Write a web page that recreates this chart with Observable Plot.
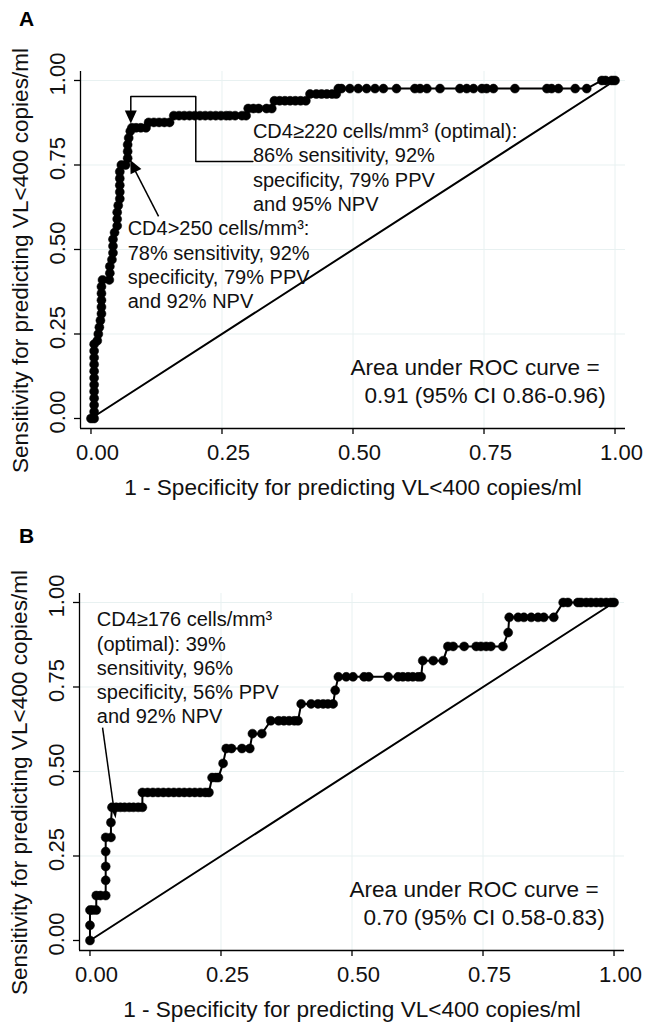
<!DOCTYPE html>
<html>
<head>
<meta charset="utf-8">
<script src="https://cdn.jsdelivr.net/npm/d3@7"></script>
<script src="https://cdn.jsdelivr.net/npm/@observablehq/plot@0.6"></script>
<style>
  html, body { margin: 0; padding: 0; background: #fff; }
  #chart { width: 656px; }
  #chart svg { display: block; }
</style>
</head>
<body>
<div id="chart"></div>
<script>
// ---------- data ----------
const ticks = [0, 0.25, 0.5, 0.75, 1];
const gridTicks = [0.25, 0.5, 0.75, 1];
const xTitle = "1 - Specificity for predicting VL<400 copies/ml";
const yTitle = "Sensitivity for predicting VL<400 copies/ml";

// Panel A ROC curve (1 - specificity, sensitivity)
const aFpr = [
  0, 0.006,
  0.006, 0.006, 0.006, 0.006, 0.006, 0.006, 0.006, 0.006, 0.006, 0.006, 0.006,
  0.012, 0.014, 0.016, 0.018,
  0.02, 0.02, 0.02, 0.02, 0.02, 0.022,
  0.035, 0.036, 0.036, 0.04,
  0.042, 0.042, 0.042, 0.045,
  0.05, 0.05, 0.05, 0.052,
  0.055, 0.055, 0.055, 0.055, 0.055, 0.058,
  0.066, 0.07, 0.07, 0.07, 0.072, 0.075,
  0.078, 0.086, 0.095, 0.105,
  0.11, 0.12, 0.13, 0.14, 0.15,
  0.158, 0.168, 0.178, 0.188, 0.198, 0.208, 0.218, 0.228, 0.238, 0.248, 0.258, 0.265, 0.275, 0.288, 0.296,
  0.30, 0.31, 0.32, 0.335, 0.345,
  0.35, 0.36, 0.37, 0.38, 0.39, 0.40, 0.41,
  0.418, 0.43, 0.44, 0.45, 0.46, 0.468,
  0.472, 0.478, 0.494, 0.510, 0.526, 0.542, 0.558, 0.583, 0.618, 0.628, 0.641, 0.666,
  0.704, 0.717, 0.730, 0.746, 0.755, 0.768, 0.809, 0.870, 0.879, 0.892, 0.924, 0.946,
  0.975, 0.982, 0.994, 1.0
];
const aSens = [
  0, 0,
  0.02, 0.04, 0.06, 0.08, 0.10, 0.12, 0.14, 0.16, 0.18, 0.20, 0.22,
  0.23, 0.25, 0.27, 0.29,
  0.31, 0.33, 0.35, 0.37, 0.39, 0.41,
  0.41, 0.43, 0.45, 0.47,
  0.49, 0.51, 0.53, 0.55,
  0.57, 0.59, 0.61, 0.63,
  0.65, 0.67, 0.69, 0.71, 0.73, 0.75,
  0.75, 0.77, 0.79, 0.81, 0.83, 0.85,
  0.86, 0.86, 0.86, 0.86,
  0.876, 0.876, 0.876, 0.876, 0.876,
  0.896, 0.896, 0.896, 0.896, 0.896, 0.896, 0.896, 0.896, 0.896, 0.896, 0.896, 0.896, 0.896, 0.896, 0.896,
  0.917, 0.917, 0.917, 0.917, 0.917,
  0.94, 0.94, 0.94, 0.94, 0.94, 0.94, 0.94,
  0.96, 0.96, 0.96, 0.96, 0.96, 0.96,
  0.976, 0.976, 0.976, 0.976, 0.976, 0.976, 0.976, 0.976, 0.976, 0.976, 0.976, 0.976,
  0.976, 0.976, 0.976, 0.976, 0.976, 0.976, 0.976, 0.976, 0.976, 0.976, 0.976, 0.976,
  1, 1, 1, 1
];

// Panel B ROC curve
const bFpr = [
  0, 0, 0,
  0.005, 0.012,
  0.012, 0.02, 0.03,
  0.03, 0.03, 0.03, 0.03,
  0.04, 0.04, 0.042,
  0.05, 0.058, 0.066, 0.075, 0.083, 0.092, 0.10,
  0.10, 0.11, 0.12, 0.13, 0.14, 0.15, 0.16, 0.17, 0.18, 0.19, 0.20, 0.21, 0.22, 0.227,
  0.233, 0.24, 0.245,
  0.254, 0.26,
  0.27, 0.29, 0.305,
  0.31, 0.328,
  0.345, 0.36, 0.37, 0.38, 0.39, 0.397,
  0.403, 0.422, 0.435, 0.445, 0.454, 0.464,
  0.468, 0.474,
  0.489, 0.502, 0.523, 0.532, 0.569, 0.588, 0.597, 0.607, 0.616, 0.626, 0.632,
  0.635, 0.655, 0.674,
  0.683, 0.693, 0.714, 0.737, 0.746, 0.756, 0.765, 0.788,
  0.798, 0.80,
  0.817, 0.828, 0.842, 0.855, 0.866, 0.885,
  0.903, 0.912, 0.931, 0.937, 0.947, 0.956, 0.966, 0.975, 0.985, 0.994, 1.0
];
const bSens = [
  0, 0.045, 0.09,
  0.09, 0.09,
  0.133, 0.133, 0.133,
  0.178, 0.219, 0.263, 0.305,
  0.305, 0.349, 0.394,
  0.394, 0.394, 0.394, 0.394, 0.394, 0.394, 0.394,
  0.438, 0.438, 0.438, 0.438, 0.438, 0.438, 0.438, 0.438, 0.438, 0.438, 0.438, 0.438, 0.438, 0.438,
  0.482, 0.482, 0.482,
  0.524, 0.568,
  0.568, 0.568, 0.568,
  0.612, 0.612,
  0.65, 0.65, 0.65, 0.65, 0.65, 0.65,
  0.70, 0.70, 0.70, 0.70, 0.70, 0.70,
  0.74, 0.78,
  0.78, 0.78, 0.78, 0.78, 0.78, 0.78, 0.78, 0.78, 0.78, 0.78, 0.78,
  0.828, 0.828, 0.828,
  0.87, 0.87, 0.87, 0.87, 0.87, 0.87, 0.87, 0.87,
  0.911, 0.956,
  0.956, 0.956, 0.956, 0.956, 0.956, 0.956,
  1, 1, 1, 1, 1, 1, 1, 1, 1, 1, 1
];

// Annotation texts
const aNotes = [
  {text: "CD4\u2265220 cells/mm\u00b3 (optimal):\n86% sensitivity, 92%\nspecificity, 79% PPV\nand 95% NPV", x: 0.309, y: 0.745},
  {text: "CD4>250 cells/mm\u00b3:\n78% sensitivity, 92%\nspecificity, 79% PPV\nand 92% NPV", x: 0.070, y: 0.457}
];
const bNotes = [
  {text: "CD4\u2265176 cells/mm\u00b3\n(optimal): 39%\nsensitivity, 96%\nspecificity, 56% PPV\nand 92% NPV", x: 0.013, y: 0.809}
];
const aAuc = ["Area under ROC curve =", "0.91 (95% CI 0.86-0.96)"];
const bAuc = ["Area under ROC curve =", "0.70 (95% CI 0.58-0.83)"];
const aucX = [0.495, 0.522];
const aucY = [0.151, 0.067];

// Arrow paths (data units)
const aBracket = [
  {x: 0.309, y: 0.760}, {x: 0.200, y: 0.760}, {x: 0.200, y: 0.953},
  {x: 0.076, y: 0.953}, {x: 0.076, y: 0.895}
];
const aLinks = [{x1: 0.129, y1: 0.598, x2: 0.082, y2: 0.740}];
const aHeads = [
  {x: 0.076, y: 0.873, rot: 180, w: 12, l: 13},
  {x: 0.075, y: 0.765, rot: -26, w: 12, l: 13}
];
const bLinks = [{x1: 0.024, y1: 0.630, x2: 0.046, y2: 0.385}];
const bHeads = [
  {x: 0.049, y: 0.361, rot: 172, w: 8, l: 13}
];

// ---------- drawing ----------
const xDomain = [-0.02, 1.02];
const yDomain = [-0.0296, 1.0266];
const fmt = d3.format(".2f");
const blank = () => "";
const font = "'Liberation Sans', Arial, Helvetica, sans-serif";

// arrowhead symbol whose apex sits at the anchor point (pointing up before rotation)
function headSymbol(w, l) {
  return {draw(ctx) {
    ctx.moveTo(0, 0);
    ctx.lineTo(-w / 2, l);
    ctx.lineTo(w / 2, l);
    ctx.closePath();
  }};
}

function panel(cfg) {
  const pts = cfg.fpr.map((x, i) => ({x, y: cfg.sens[i]}));
  const heads = cfg.heads.map(h => Plot.dot([h], {
    x: "x", y: "y", symbol: headSymbol(h.w, h.l), r: 5, rotate: h.rot,
    fill: "#000", stroke: "none"
  }));
  const auc = cfg.auc.map((t, i) => Plot.text([t], {
    x: aucX[i], y: aucY[i], text: d => d, textAnchor: "start",
    lineAnchor: "middle", fontSize: 22.6, fill: "#111"
  }));
  return Plot.plot({
    width: 656,
    height: cfg.height,
    marginTop: cfg.mt, marginBottom: cfg.mb, marginLeft: cfg.ml, marginRight: cfg.mr,
    style: {fontFamily: font, background: "#fff", color: "#111"},
    x: {domain: xDomain},
    y: {domain: yDomain},
    marks: [
      Plot.gridX(gridTicks, {stroke: "#e8f1f1", strokeOpacity: 1, strokeWidth: 1}),
      Plot.gridY(gridTicks, {stroke: "#e8f1f1", strokeOpacity: 1, strokeWidth: 1}),
      Plot.ruleX([xDomain[0]], {stroke: "#000", strokeWidth: 1.3}),
      Plot.ruleY([yDomain[0]], {stroke: "#000", strokeWidth: 1.3}),
      // tick marks only
      Plot.axisX(ticks, {tickFormat: blank, tickSize: 6, label: null, stroke: "#000", strokeWidth: 1.3}),
      Plot.axisY(ticks, {tickFormat: blank, tickSize: 6, label: null, stroke: "#000", strokeWidth: 1.3}),
      // tick labels only (set slightly after their ticks, as in the reference)
      Plot.axisX(ticks, {tickFormat: fmt, tickSize: 0, tickPadding: 16, fontSize: 22, dx: 6.5,
        label: null, fill: "#111"}),
      Plot.axisY(ticks, {tickFormat: fmt, tickRotate: -90, tickSize: 0, tickPadding: 16, fontSize: 22, dy: -6.5,
        label: null, fill: "#111"}),
      Plot.line([0, 1], {x: d => d, y: d => d, stroke: "#000", strokeWidth: 2}),
      Plot.line(pts, {x: "x", y: "y", stroke: "#000", strokeWidth: 2}),
      Plot.dot(pts, {x: "x", y: "y", r: 4.5, fill: "#000", stroke: "#000", strokeWidth: 0.5}),
      cfg.bracket ? Plot.line(cfg.bracket, {x: "x", y: "y", stroke: "#000", strokeWidth: 1.5}) : null,
      Plot.link(cfg.links, {x1: "x1", y1: "y1", x2: "x2", y2: "y2", stroke: "#000", strokeWidth: 1.5}),
      ...heads,
      Plot.text(cfg.notes, {x: "x", y: "y", text: "text", textAnchor: "start", lineAnchor: "middle",
        fontSize: 20, lineHeight: 1.215, fill: "#111"}),
      ...auc,
      Plot.text([yTitle], {frameAnchor: "left", text: d => d, rotate: -90, dx: -60, dy: 10.5,
        fontSize: 22.6, textAnchor: "middle", lineAnchor: "middle", fill: "#111"}),
      Plot.text([xTitle], {frameAnchor: "bottom", text: d => d, dy: 59,
        fontSize: 22.6, textAnchor: "middle", lineAnchor: "middle", fill: "#111"}),
      Plot.text([cfg.label], {frameAnchor: "top-left", text: d => d, dx: cfg.ldx, dy: cfg.ldy,
        fontSize: 21, fontWeight: "bold", textAnchor: "middle", lineAnchor: "middle", fill: "#000"})
    ]
  });
}

const chart = document.getElementById("chart");
chart.append(panel({
  label: "A", fpr: aFpr, sens: aSens, notes: aNotes, auc: aAuc,
  bracket: aBracket, links: aLinks, heads: aHeads,
  height: 500, mt: 71, mb: 72, ml: 80, mr: 31, ldx: -54, ldy: -52
}));
chart.append(panel({
  label: "B", fpr: bFpr, sens: bSens, notes: bNotes, auc: bAuc,
  bracket: null, links: bLinks, heads: bHeads,
  height: 525, mt: 93, mb: 75, ml: 79, mr: 32, ldx: -53, ldy: -57
}));
</script>
</body>
</html>
